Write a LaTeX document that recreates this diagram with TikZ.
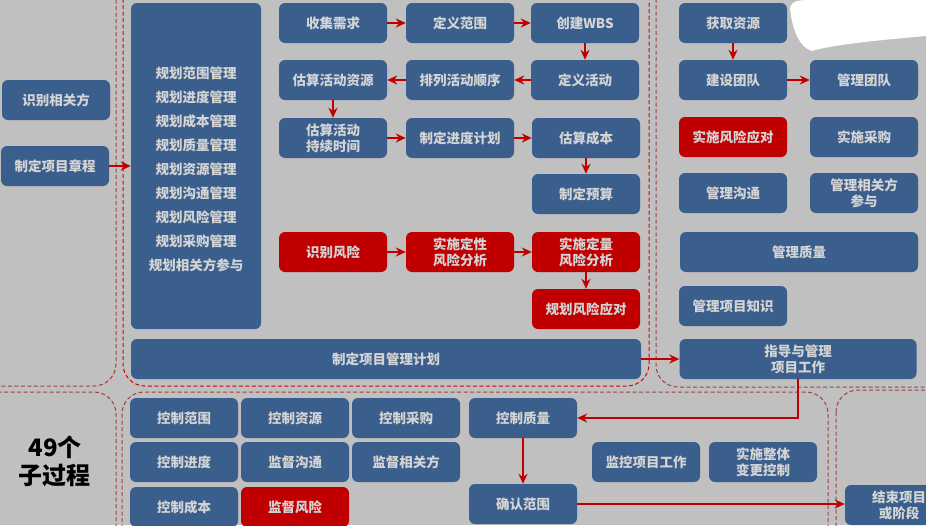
\documentclass[tikz,border=0pt]{standalone}
\usepackage{fontspec}
\setmainfont{Noto Sans CJK SC}
\usepackage{xcolor}
\usepackage{tikz}
\usetikzlibrary{arrows.meta}
\definecolor{bg}{RGB}{192,192,192}
\definecolor{pblue}{RGB}{59,95,140}
\definecolor{pred}{RGB}{192,0,0}
\definecolor{ptxt}{RGB}{212,212,212}
\definecolor{pline}{RGB}{160,65,65}
\definecolor{pdash}{RGB}{215,0,0}
\tikzset{
box/.style={fill=pblue,rounded corners=6pt,text=ptxt,font=\fontsize{13.5}{16}\selectfont\bfseries,align=center,minimum width=108pt,minimum height=40pt,inner sep=0pt},
rbox/.style={box,fill=pred},
flow/.style={-{Stealth[length=10pt,width=9pt]},pred,line width=2.6pt},
zone/.style={pline,line width=1pt,dash pattern=on 4pt off 2.5pt,rounded corners=22pt}
}
\begin{document}
\begin{tikzpicture}[x=1pt,y=-1pt]
\useasboundingbox(0,0)rectangle(926,525);
\clip(0,0)rectangle(926,525);
\fill[bg](0,0)rectangle(926,525);
\draw[zone](-30,-30)rectangle(116,386);
\draw[zone,pdash](123,-30)rectangle(649,386);
\draw[zone](656,-30)rectangle(960,387);
\draw[zone](-30,392)rectangle(116,560);
\draw[zone](122,392)rectangle(828,560);
\draw[zone](836,390)rectangle(960,560);
\fill[white](790,8)..controls(792,0)and(800,0)..(812,0)--(926,0)--(926,36)..controls(880,40)and(830,45)..(812,51)..controls(800,48)and(792,30)..cycle;
% initiating
\node[box](sbxgf)at(56,100){识别相关方};
\node[box](zdzc)at(55,166){制定项目章程};
% planning
\node[box,minimum width=130pt,minimum height=326pt](ghgl)at(196,166){};
\node[text=ptxt,font=\fontsize{13.5}{24}\selectfont\bfseries,align=center](ghtxt)at(196,169){规划范围管理\\规划进度管理\\规划成本管理\\规划质量管理\\规划资源管理\\规划沟通管理\\规划风险管理\\规划采购管理\\规划相关方参与};
\node[box](sjxq)at(333,23){收集需求};
\node[box](dyfw)at(460,23){定义范围};
\node[box](cjwbs)at(585,23){创建WBS};
\node[box](gszy)at(333,80){估算活动资源};
\node[box](plsx)at(460,80){排列活动顺序};
\node[box](dyhd)at(585,80){定义活动};
\node[box](gssj)at(333,138){估算活动\\持续时间};
\node[box](zdjd)at(460,138){制定进度计划};
\node[box](gscb)at(586,138){估算成本};
\node[box](zdys)at(586,194){制定预算};
\node[rbox](sbfx)at(333,252){识别风险};
\node[rbox](dxfx)at(460,252){实施定性\\风险分析};
\node[rbox](dlfx)at(586,252){实施定量\\风险分析};
\node[rbox](ghyd)at(586,309){规划风险应对};
\node[box,minimum width=510pt](zdjh)at(386,359){制定项目管理计划};
% executing
\node[box](hqzy)at(733,23){获取资源};
\node[box](jstd)at(733,80){建设团队};
\node[box](gltd)at(864,80){管理团队};
\node[rbox](ssyd)at(733,137){实施风险应对};
\node[box](sscg)at(864,137){实施采购};
\node[box](glgt)at(733,193){管理沟通};
\node[box](glxgf)at(864,193){管理相关方\\参与};
\node[box,minimum width=238pt](glzl)at(799,252){管理质量};
\node[box](glzs)at(733,306){管理项目知识};
\node[box,minimum width=237pt](zdgl)at(798,359){指导与管理\\项目工作};
% monitoring
\node[font=\fontsize{24}{28}\selectfont\bfseries,align=center](zgc)at(55,461){49个\\子过程};
\node[box](kzfw)at(184,418){控制范围};
\node[box](kzzy)at(295,418){控制资源};
\node[box](kzcg)at(406,418){控制采购};
\node[box](kzjd)at(184,462){控制进度};
\node[box](jdgt)at(295,462){监督沟通};
\node[box](jdxgf)at(406,462){监督相关方};
\node[box](kzcb)at(184,507){控制成本};
\node[rbox](jdfx)at(295,507){监督风险};
\node[box](kzzl)at(523,418){控制质量};
\node[box](qrfw)at(523,504){确认范围};
\node[box](jkgz)at(646,462){监控项目工作};
\node[box](bgkz)at(763,462){实施整体\\变更控制};
% closing
\node[box](jsxm)at(899,505){结束项目\\或阶段};
\draw[flow](zdzc)--(zdzc-|ghgl.west);
\draw[flow](sjxq)--(dyfw);
\draw[flow](dyfw)--(cjwbs);
\draw[flow](cjwbs)--(dyhd);
\draw[flow](dyhd)--(plsx);
\draw[flow](plsx)--(gszy);
\draw[flow](gszy)--(gssj);
\draw[flow](gssj)--(zdjd);
\draw[flow](zdjd)--(gscb);
\draw[flow](gscb)--(zdys);
\draw[flow](sbfx)--(dxfx);
\draw[flow](dxfx)--(dlfx);
\draw[flow](dlfx)--(ghyd);
\draw[flow](hqzy)--(jstd);
\draw[flow](jstd)--(gltd);
\draw[flow](zdjh)--(zdgl);
\draw[flow](zdgl.south)|-(kzzl.east);
\draw[flow](kzzl)--(qrfw);
\draw[flow](qrfw.east)--(qrfw.east-|jsxm.west);
\end{tikzpicture}
\end{document}
